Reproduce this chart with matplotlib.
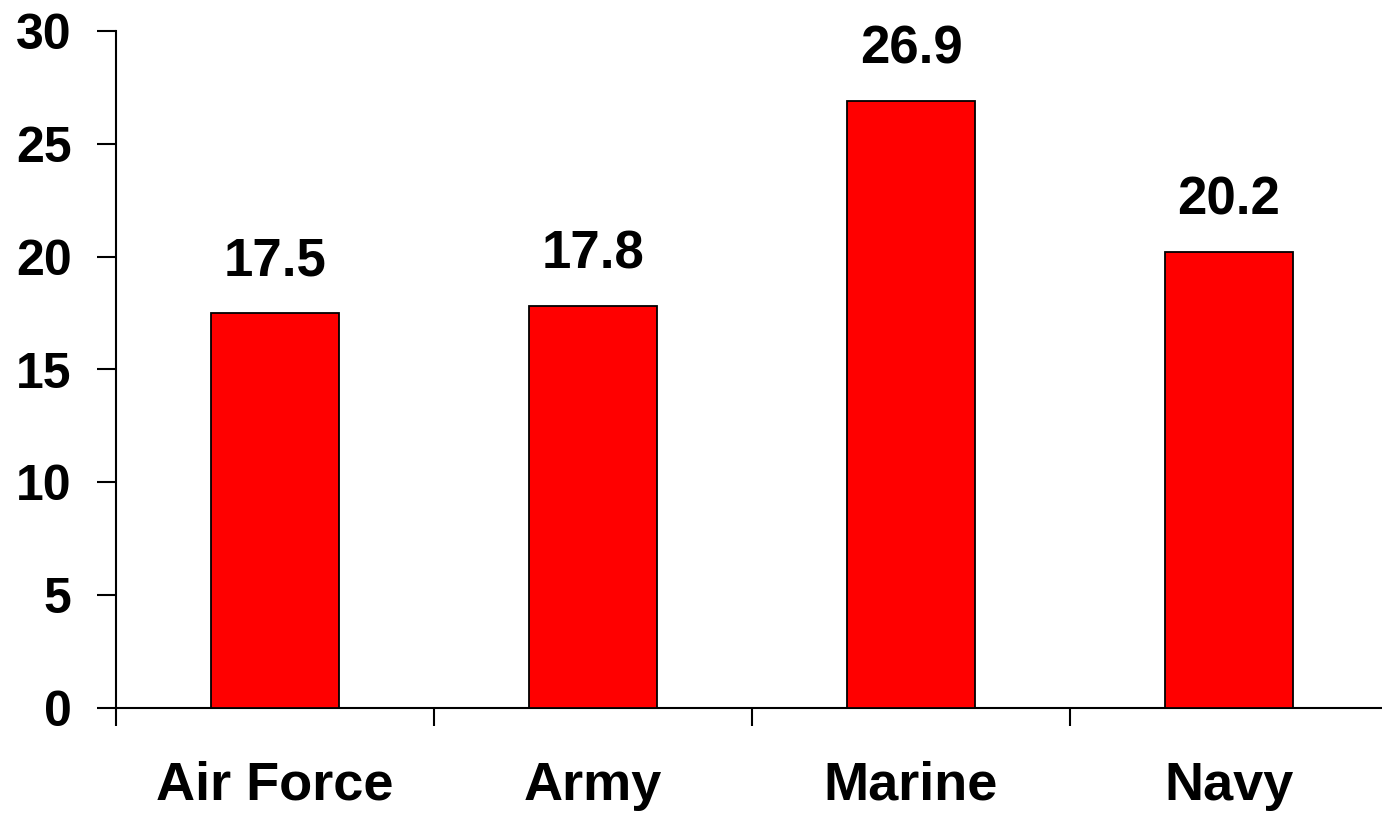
import matplotlib
matplotlib.use("Agg")
import matplotlib.pyplot as plt
from matplotlib.ticker import FixedLocator

plt.rcParams['font.family'] = ['Liberation Sans', 'DejaVu Sans']
plt.rcParams['font.weight'] = 'bold'

branches = ["Air Force", "Army", "Marine", "Navy"]
values = [17.5, 17.8, 26.9, 20.2]
yticks = [0, 5, 10, 15, 20, 25, 30]

fig = plt.figure(figsize=(13.82, 8.13), dpi=100)
# axes from pixel x=116 to the right edge, y from 708 (zero) to 31 (thirty)
ax = fig.add_axes([116/1382, (813-708)/813, 1 - 116/1382, 677/813])

pos = range(len(branches))
bars = ax.bar(pos, values, width=0.4, color='#ff0000', edgecolor='black', linewidth=1.3, zorder=3)

for x, v in zip(pos, values):
    ax.annotate("%.1f" % v, (x, v), xytext=(0, 19), textcoords='offset points',
                ha='center', va='bottom', fontsize=38, fontweight='bold')

ax.set_ylim(0, 30)
ax.set_xlim(-0.5, -0.5 + (1382 - 116) / 318)
ax.set_yticks(yticks)
ax.set_yticklabels([str(t) for t in yticks], fontsize=36, fontweight='bold')

ax.set_xticks(list(pos))
ax.set_xticklabels(branches, fontsize=39, fontweight='bold')
ax.xaxis.set_minor_locator(FixedLocator([-0.5, 0.5, 1.5, 2.5, 3.5]))
ax.tick_params(axis='x', which='major', length=0, pad=38)
ax.tick_params(axis='x', which='minor', length=13, width=1.5, direction='out')
ax.tick_params(axis='y', length=14, width=1.5, direction='out', pad=18)

for s in ['top', 'right']:
    ax.spines[s].set_visible(False)
for s in ['left', 'bottom']:
    ax.spines[s].set_linewidth(1.5)

fig.savefig("out.png", dpi=100)
